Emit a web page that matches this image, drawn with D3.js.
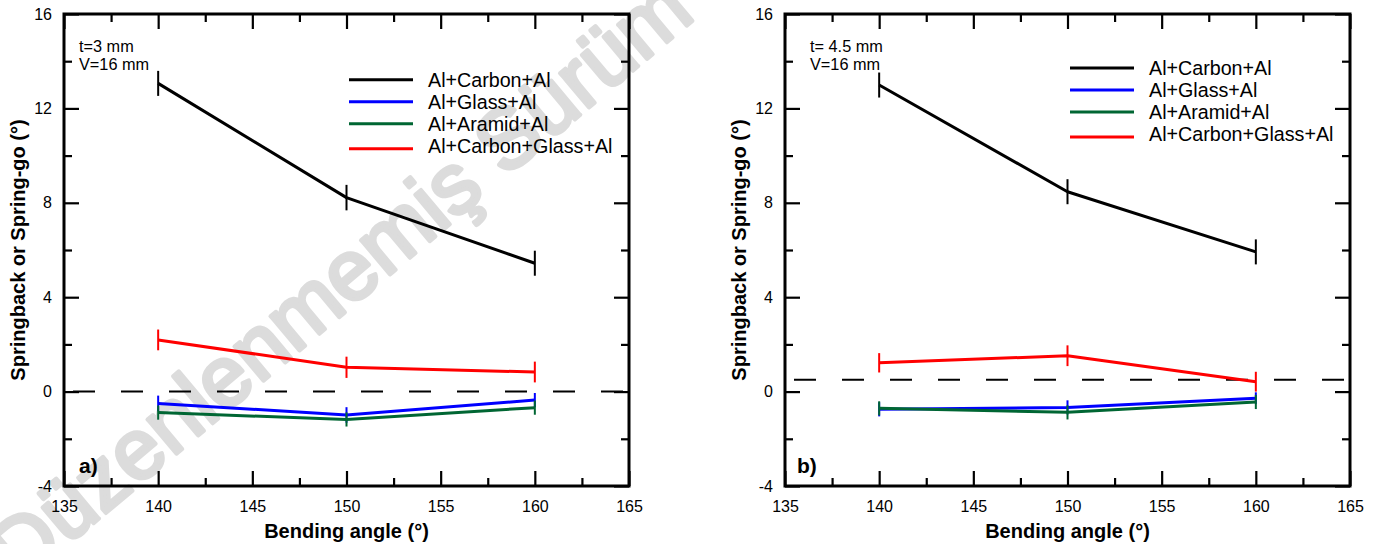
<!DOCTYPE html>
<html>
<head>
<meta charset="utf-8">
<script src="https://cdn.jsdelivr.net/npm/d3@7/dist/d3.min.js"></script>
<style>
  html, body { margin: 0; padding: 0; background: #fff; }
  svg { display: block; }
  text { font-family: "Liberation Sans", Arial, sans-serif; }
</style>
</head>
<body>
<svg id="chart" width="1380" height="544"></svg>
<script>
// ---------- data ----------
const angles = [140, 150, 160];
const seriesNames = ["Al+Carbon+Al", "Al+Glass+Al", "Al+Aramid+Al", "Al+Carbon+Glass+Al"];
const seriesColors = ["#000000", "#0000ff", "#006633", "#ff0000"];

// panel a) t = 3 mm
const aCarbon      = [13.06, 8.22, 5.44];
const aCarbonErr   = [0.53, 0.54, 0.53];
const aGlass       = [-0.50, -0.99, -0.36];
const aGlassErr    = [0.33, 0.33, 0.3];
const aAramid      = [-0.89, -1.18, -0.68];
const aAramidErr   = [0.3, 0.3, 0.3];
const aCarbonGlass = [2.19, 1.03, 0.83];
const aCarbonGlassErr = [0.44, 0.45, 0.44];
const aRefLine = 0;

// panel b) t = 4.5 mm
const bCarbon      = [12.99, 8.47, 5.92];
const bCarbonErr   = [0.53, 0.53, 0.53];
const bGlass       = [-0.75, -0.67, -0.28];
const bGlassErr    = [0.3, 0.3, 0.25];
const bAramid      = [-0.71, -0.88, -0.44];
const bAramidErr   = [0.3, 0.3, 0.3];
const bCarbonGlass = [1.22, 1.52, 0.42];
const bCarbonGlassErr = [0.41, 0.44, 0.42];
const bRefLine = 0.5;

const xMajorTicks = [135, 140, 145, 150, 155, 160, 165];
const xMinorTicks = [137.5, 142.5, 147.5, 152.5, 157.5, 162.5];
const yMajorTicks = [-4, 0, 4, 8, 12, 16];
const yMinorTicks = [-2, 2, 6, 10, 14];
const xDomain = [135, 165];
const yDomain = [-4, 16];

const xTitle = "Bending angle (°)";
const yTitle = "Springback or Spring-go (°)";
const watermark = "Düzenlenmemiş Sürüm";

const panels = [
  { left: 64, right: 629, label: "a)", labelX: 79, notes: ["t=3 mm", "V=16 mm"], noteX: 79,
    legendY: 86.7, refLine: aRefLine,
    series: [[aCarbon, aCarbonErr], [aGlass, aGlassErr], [aAramid, aAramidErr], [aCarbonGlass, aCarbonGlassErr]] },
  { left: 785, right: 1350, label: "b)", labelX: 797, notes: ["t= 4.5 mm", "V=16 mm"], noteX: 810,
    legendY: 75, refLine: bRefLine,
    series: [[bCarbon, bCarbonErr], [bGlass, bGlassErr], [bAramid, bAramidErr], [bCarbonGlass, bCarbonGlassErr]] }
];

const plotTop = 14, plotBottom = 486;
const svg = d3.select("#chart");

// watermark (behind everything)
svg.append("text")
  .attr("transform", "translate(20,585) rotate(-40)")
  .attr("font-size", 85)
  .attr("fill", "#dcdcdc")
  .attr("stroke", "#dcdcdc")
  .attr("stroke-width", 4)
  .attr("stroke-linejoin", "round")
  .text(watermark);

const y = d3.scaleLinear().domain(yDomain).range([plotBottom, plotTop]);
const numFmt = d => String(d);

panels.forEach(p => {
  const x = d3.scaleLinear().domain(xDomain).range([p.left, p.right]);
  const g = svg.append("g");

  const styleAxis = sel => {
    sel.select(".domain").remove();
    sel.selectAll(".tick line").attr("stroke", "#000").attr("stroke-width", 2.2);
    sel.selectAll(".tick text").attr("font-size", 16).attr("fill", "#000")
      .attr("font-family", "'Liberation Sans', Arial, sans-serif");
  };
  g.append("g").attr("transform", `translate(0,${plotBottom})`)
    .call(d3.axisBottom(x).tickValues(xMajorTicks).tickSize(-15).tickPadding(15).tickFormat(numFmt))
    .call(styleAxis);
  g.append("g").attr("transform", `translate(0,${plotBottom})`)
    .call(d3.axisBottom(x).tickValues(xMinorTicks).tickSize(-8).tickFormat(""))
    .call(styleAxis);
  g.append("g").attr("transform", `translate(0,${plotTop})`)
    .call(d3.axisTop(x).tickValues(xMajorTicks).tickSize(-15).tickFormat(""))
    .call(styleAxis);
  g.append("g").attr("transform", `translate(0,${plotTop})`)
    .call(d3.axisTop(x).tickValues(xMinorTicks).tickSize(-8).tickFormat(""))
    .call(styleAxis);
  g.append("g").attr("transform", `translate(${p.left},0)`)
    .call(d3.axisLeft(y).tickValues(yMajorTicks).tickSize(-15).tickPadding(12).tickFormat(numFmt))
    .call(styleAxis);
  g.append("g").attr("transform", `translate(${p.left},0)`)
    .call(d3.axisLeft(y).tickValues(yMinorTicks).tickSize(-8).tickFormat(""))
    .call(styleAxis);
  g.append("g").attr("transform", `translate(${p.right},0)`)
    .call(d3.axisRight(y).tickValues(yMajorTicks).tickSize(-15).tickFormat(""))
    .call(styleAxis);
  g.append("g").attr("transform", `translate(${p.right},0)`)
    .call(d3.axisRight(y).tickValues(yMinorTicks).tickSize(-8).tickFormat(""))
    .call(styleAxis);

  // dashed reference line
  g.append("line")
    .attr("x1", x(xDomain[0]) + 9).attr("x2", x(xDomain[1]))
    .attr("y1", y(p.refLine)).attr("y2", y(p.refLine))
    .attr("stroke", "#000").attr("stroke-width", 2)
    .attr("stroke-dasharray", "22,26");

  // series
  const line = d3.line().x(d => x(d[0])).y(d => y(d[1]));
  p.series.forEach((s, i) => {
    const vals = s[0], errs = s[1];
    const pts = angles.map((a, k) => [a, vals[k], errs[k]]);
    g.append("path").datum(pts)
      .attr("d", line)
      .attr("fill", "none")
      .attr("stroke", seriesColors[i])
      .attr("stroke-width", 3)
      .attr("stroke-linejoin", "round");
    g.selectAll(null).data(pts).enter().append("line")
      .attr("x1", d => x(d[0])).attr("x2", d => x(d[0]))
      .attr("y1", d => y(d[1] + d[2])).attr("y2", d => y(d[1] - d[2]))
      .attr("stroke", seriesColors[i]).attr("stroke-width", 2);
  });

  // frame
  g.append("rect")
    .attr("x", p.left).attr("y", plotTop)
    .attr("width", p.right - p.left).attr("height", plotBottom - plotTop)
    .attr("fill", "none").attr("stroke", "#000").attr("stroke-width", 3);

  // legend
  const legendLineOffset = [7, 7, 7, 4];
  seriesNames.forEach((name, i) => {
    const by = p.legendY + i * 22;
    g.append("line")
      .attr("x1", p.left + 285).attr("x2", p.left + 349)
      .attr("y1", by - legendLineOffset[i]).attr("y2", by - legendLineOffset[i])
      .attr("stroke", seriesColors[i]).attr("stroke-width", 3);
    g.append("text")
      .attr("x", p.left + 364).attr("y", by)
      .attr("font-size", 19.7).attr("fill", "#000")
      .text(name);
  });

  // notes
  p.notes.forEach((t, i) => {
    g.append("text").attr("x", p.noteX).attr("y", 52 + i * 18)
      .attr("font-size", 16.3).attr("fill", "#000").text(t);
  });

  // panel label
  g.append("text").attr("x", p.labelX).attr("y", 473)
    .attr("font-size", 21).attr("font-weight", "bold").attr("fill", "#000")
    .text(p.label);

  // axis titles
  g.append("text")
    .attr("x", (p.left + p.right) / 2).attr("y", 538)
    .attr("text-anchor", "middle")
    .attr("font-size", 20).attr("font-weight", "bold").attr("fill", "#000")
    .text(xTitle);
  g.append("text")
    .attr("transform", `translate(${p.left - 39},${(plotTop + plotBottom) / 2}) rotate(-90)`)
    .attr("text-anchor", "middle")
    .attr("font-size", 20).attr("font-weight", "bold").attr("fill", "#000")
    .text(yTitle);
});
</script>
</body>
</html>
